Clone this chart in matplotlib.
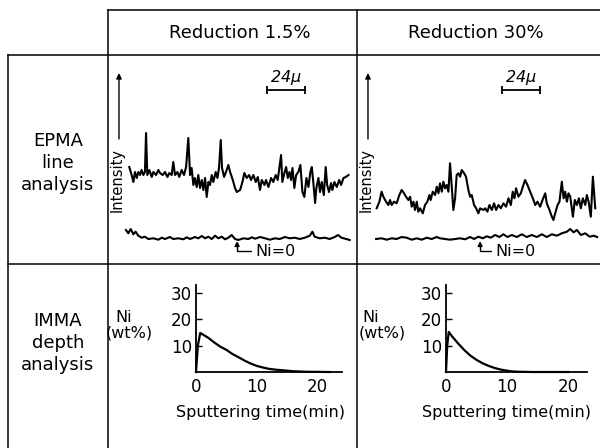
import matplotlib
matplotlib.use('Agg')
import matplotlib.pyplot as plt

plt.rcParams['font.family'] = ['DejaVu Sans']

# Column / row headers
col_titles = ['Reduction 1.5%', 'Reduction 30%']
row_titles = ['EPMA\nline\nanalysis', 'IMMA\ndepth\nanalysis']
scale_bar_um = 24

# EPMA line analysis, 1.5 % reduction: scan position (um) vs intensity (a.u.)
epma1_pos = [0.8, 2.3, 3.4, 4.4, 5.5, 6.5, 7.6, 8.6, 9.7, 10.7,
             11.4, 12.2, 13.5, 15.0, 16.0, 17.7, 19.2, 20.2, 21.9, 23.4,
             24.9, 26.1, 27.6, 28.6, 29.7, 31.2, 32.4, 33.9, 35.4, 36.7,
             38.1, 39.2, 40.2, 41.3, 42.3, 43.4, 44.4, 45.5, 46.6, 47.6,
             48.7, 49.7, 50.8, 51.8, 52.9, 53.9, 55.4, 56.5, 57.5, 58.6,
             59.4, 60.7, 61.9, 63.4, 64.5, 66.2, 67.6, 68.7,
             70.8, 72.3, 73.5, 75.0, 76.5, 77.7, 79.2, 80.7, 82.0, 83.4,
             84.5, 86.2, 87.2, 88.7, 90.4, 91.8, 93.3, 94.6, 95.6, 96.7,
             97.5, 98.8, 99.9, 100.9, 102.0, 103.0, 103.9, 105.1, 106.2, 107.6,
             108.9, 110.2, 111.4, 112.7, 114.0, 115.2, 116.1, 117.1, 118.2, 119.0,
             120.3, 121.3, 122.4, 123.7, 124.9, 125.8, 127.0, 128.3, 129.1, 130.4,
             131.9, 133.4, 134.6, 136.1, 137.6, 139.3]
epma1_int = [83, 75, 68, 78, 72, 78, 75, 80, 75, 78,
             117, 75, 80, 73, 78, 75, 80, 77, 75, 78,
             73, 77, 75, 88, 75, 78, 73, 80, 75, 83,
             112, 75, 82, 65, 72, 63, 75, 62, 70, 60,
             72, 53, 68, 65, 75, 68, 78, 72, 82, 110,
             82, 73, 78, 85, 78, 70, 62, 58,
             60, 68, 77, 72, 75, 70, 75, 68, 73, 60,
             70, 65, 70, 63, 72, 68, 75, 70, 82, 95,
             68, 77, 83, 72, 78, 70, 82, 62, 75, 78,
             85, 58, 53, 72, 63, 78, 83, 67, 47, 62,
             72, 58, 68, 55, 83, 65, 58, 67, 60, 68,
             63, 70, 65, 72, 73, 75]
# Ni = 0 base line trace
base1_pos = [-1.3, 0.2, 1.7, 3.4, 4.8, 6.5, 8.6, 10.7, 12.8, 16.0,
             19.2, 21.3, 23.4, 26.5, 28.6, 31.8, 35.0, 37.1, 39.2, 42.3,
             44.4, 46.6, 48.7, 50.8, 52.9, 55.0, 57.1, 59.2, 61.3, 63.4,
             65.5, 67.6, 69.7, 72.9, 76.1, 78.2, 80.3, 83.4, 86.6, 89.6,
             92.8, 95.9, 99.1, 102.2, 105.4, 108.5, 111.7, 114.8, 116.5, 117.9,
             121.1, 124.3, 127.4, 130.6, 132.7, 134.8, 137.9, 140.0]
base1_int = [20, 16.7, 21, 15.7, 18.3, 14.3, 12.3, 13.3, 11, 11.7,
             10.3, 12.3, 11, 13, 11, 11.7, 10.7, 12.7, 11, 13,
             11.7, 14, 11.7, 13.3, 11, 14.3, 11.7, 13.3, 10.7, 12.3,
             15, 11, 10, 11.7, 11, 12.7, 11.3, 13, 11.7, 10.3,
             11.7, 11, 13, 11.7, 12.3, 11, 12.3, 14.3, 18.3, 13.3,
             11.7, 12.3, 11, 13, 15, 12.3, 11, 10]

# EPMA line analysis, 30 % reduction
epma2_pos = [-0.2, 1.5, 2.9, 4.0, 5.7, 7.2, 8.2, 9.3, 10.7, 12.4,
             14.1, 15.6, 17.1, 18.3, 19.8, 20.9, 21.9, 23.0, 24.0, 25.1,
             26.1, 27.2, 28.9, 30.3, 31.8, 33.1, 33.9, 35.2, 36.7, 37.7,
             38.8, 39.8, 40.9, 41.9, 43.0, 44.0, 45.1, 46.1, 47.2, 48.2,
             49.3, 50.3, 51.4, 52.5, 53.5, 55.0, 56.2, 57.7, 58.8, 59.8,
             61.3, 62.6, 64.0, 65.1, 67.2,
             68.3, 69.7, 71.0, 72.5, 73.9, 75.2, 76.7, 78.2, 79.8, 81.5,
             83.0, 84.5, 85.7, 86.8, 87.8, 89.3, 90.8, 92.1, 93.5, 95.0,
             96.7, 98.4, 99.9, 101.3, 103.0, 104.5, 106.2, 107.2, 108.9, 110.4,
             111.4, 112.5, 114.0, 115.2, 116.7, 117.8, 118.8, 119.9, 120.9, 122.0,
             123.7, 124.9, 126.2, 127.5, 128.7, 130.0, 131.5, 132.5, 133.6, 135.0,
             136.3, 137.8]
epma2_int = [41.7, 48.3, 58.3, 53.3, 48.3, 45, 50, 45, 48.3, 46.7,
             55, 60, 56.7, 53.3, 50, 53.3, 43.3, 48.3, 40, 48.3,
             38.3, 41.7, 36.7, 45, 48.3, 55, 50, 58.3, 55, 63.3,
             56.7, 66.7, 58.3, 68.3, 61.7, 65, 58.3, 86.7, 63.3, 40,
             51.7, 75, 76.7, 73.3, 80, 76.7, 73.3, 60, 53.3, 55,
             45, 41.7, 36.7, 41.7, 40,
             41.7, 38.3, 45, 40, 46.7, 40, 45, 41.7, 46.7, 43.3,
             51.7, 45, 58.3, 51.7, 61.7, 53.3, 56.7, 63.3, 70, 65,
             58.3, 51.7, 45, 48.3, 43.3, 50, 56.7, 46.7, 40, 33.3,
             30, 36.7, 45, 48.3, 68.3, 51.7, 58.3, 48.3, 56.7, 53.3,
             33.3, 50, 45, 51.7, 41.7, 51.7, 45, 55, 48.3, 33.3,
             73.3, 41.7]
base2_pos = [-0.6, 2.9, 6.1, 9.3, 12.4, 15.6, 18.7, 21.9, 25.1, 28.2,
             31.4, 34.5, 37.7, 39.8, 43.0, 46.1, 49.3, 52.5, 55.6, 58.8,
             61.3, 64.0, 66.8, 69.3, 71.8, 74.6, 77.3, 79.8, 82.4, 85.1,
             88.3, 91.4, 94.6, 97.7, 100.9, 104.1, 107.2, 110.4, 113.6, 116.7,
             119.9, 122.0, 124.1, 126.2, 128.7, 131.5, 134.3, 136.8, 139.0]
base2_int = [11, 11.7, 10.3, 11.7, 11, 13, 12.3, 10.3, 11.7, 10.3,
             12.3, 11, 13, 11.7, 11, 10.3, 11, 11.7, 10.7, 13,
             11, 13.3, 11.7, 13.7, 12.3, 15, 13, 15.7, 13, 15,
             13, 15.7, 13, 15, 13, 15.7, 13, 15.7, 14.3, 16.7,
             18.3, 21, 17.7, 20, 15, 16.7, 13.3, 14.3, 13]

# IMMA depth profiles: sputtering time (min) vs Ni (wt%)
imma1_t = [0, 0.3, 0.7, 2, 3, 4, 5, 6, 7, 8, 9, 10, 11, 12, 13, 14, 16, 18, 20, 22]
imma1_ni = [0, 10, 14.8, 13, 11.2, 9.6, 8.4, 6.8, 5.6, 4.3, 3.2, 2.3, 1.7, 1.2,
            0.9, 0.7, 0.3, 0.1, 0.05, 0]
imma2_t = [0, 0.2, 0.45, 1, 2, 3, 4, 5, 6, 7, 8, 9, 10, 11, 12, 14, 16, 18, 20]
imma2_ni = [0, 10, 15.2, 13.5, 10.8, 8.3, 6.2, 4.6, 3.3, 2.3, 1.5, 0.9, 0.5,
            0.2, 0.1, 0, 0, 0, 0]

W, H = 600, 448


def px_rect(x0, y0, x1, y1):
    # pixel box (top-left origin) -> figure fraction rect
    return [x0 / W, 1 - y1 / H, (x1 - x0) / W, (y1 - y0) / H]


def draw_epma(ax, pos, inten, bpos, bint, xlim, bar_x, ni_x, ni_text_x):
    ax.set_xlim(xlim)
    ax.set_ylim(-12, 192)
    ax.axis('off')
    ax.patch.set_alpha(0)
    ax.plot(pos, inten, color='black', lw=1.5, clip_on=False)
    ax.plot(bpos, bint, color='black', lw=1.5, clip_on=False)
    # intensity arrow
    ax.annotate('', xy=(-5.7, 177), xytext=(-5.7, 111),
                arrowprops=dict(arrowstyle='-|>', color='black', lw=1.0,
                                mutation_scale=8, shrinkA=0, shrinkB=0),
                annotation_clip=False)
    ax.text(-7.0, 70, 'Intensity', rotation=90, ha='center', va='center',
            fontsize=10.5)
    # scale bar
    ax.plot([bar_x, bar_x + scale_bar_um], [160, 160], color='black', lw=1.3,
            marker='|', ms=6, mew=1.3)
    ax.text(bar_x + scale_bar_um / 2, 163, '24$\\mu$', ha='center', va='bottom',
            fontsize=11.5, style='italic')
    # Ni = 0 label
    ax.annotate('Ni=0', xy=(ni_x, 9), xytext=(ni_text_x, -1), ha='left',
                va='center', fontsize=11.5,
                arrowprops=dict(arrowstyle='-|>', color='black', lw=1.0,
                                mutation_scale=7, shrinkA=1, shrinkB=0,
                                connectionstyle='angle,angleA=0,angleB=90,rad=0'),
                annotation_clip=False)


def draw_imma(ax, t, ni, xmax):
    ax.patch.set_alpha(0)
    ax.plot(t, ni, color='black', lw=1.6, clip_on=False)
    ax.set_xlim(0, xmax)
    ax.set_ylim(0, 33)
    for s in ['top', 'right']:
        ax.spines[s].set_visible(False)
    for s in ['left', 'bottom']:
        ax.spines[s].set_linewidth(1.3)
    ax.set_xticks([0, 10, 20])
    ax.set_yticks([10, 20, 30])
    ax.tick_params(axis='both', direction='in', length=4, width=1.0,
                   labelsize=12, pad=3)
    ax.tick_params(axis='x', length=0, pad=4)


fig = plt.figure(figsize=(6, 4.48), dpi=100)

# table frame and headers drawn in pixel coordinates
bg = fig.add_axes([0, 0, 1, 1])
bg.set_xlim(0, W)
bg.set_ylim(H, 0)
bg.axis('off')
lw = 1.1
bg.plot([108, 600], [10, 10], color='black', lw=lw)
bg.plot([8, 600], [55, 55], color='black', lw=lw)
bg.plot([8, 600], [264, 264], color='black', lw=lw)
bg.plot([8, 8], [55, 448], color='black', lw=lw)
bg.plot([108, 108], [10, 448], color='black', lw=lw)
bg.plot([357, 357], [10, 448], color='black', lw=lw)

bg.text(240, 33, col_titles[0], ha='center', va='center', fontsize=13)
bg.text(476, 33, col_titles[1], ha='center', va='center', fontsize=13)
bg.text(58, 163, row_titles[0], ha='center', va='center', fontsize=13,
        linespacing=1.25)
bg.text(58, 343, row_titles[1], ha='center', va='center', fontsize=13,
        linespacing=1.25)

# Ni (wt%) labels and x labels
for x_ni, x_wt, x_lab in [(115, 106, 261), (362, 359, 507)]:
    bg.text(x_ni, 317, 'Ni', ha='left', va='center', fontsize=11.5)
    bg.text(x_wt, 333, '(wt%)', ha='left', va='center', fontsize=11.5)
    bg.text(x_lab, 412, 'Sputtering time(min)', ha='center', va='center',
            fontsize=11.5)

# EPMA panels
ax1 = fig.add_axes(px_rect(110, 58, 355, 262))
draw_epma(ax1, epma1_pos, epma1_int, base1_pos, base1_int,
          (-11.37, 143.4), 87.8, 68.9, 80.5)
ax2 = fig.add_axes(px_rect(359, 58, 600, 262))
draw_epma(ax2, epma2_pos, epma2_int, base2_pos, base2_int,
          (-11.37, 140.8), 79.0, 65.1, 74.5)

# IMMA panels
ax3 = fig.add_axes(px_rect(196, 285, 342, 372))
draw_imma(ax3, imma1_t, imma1_ni, 24)
ax4 = fig.add_axes(px_rect(446, 285, 587, 372))
draw_imma(ax4, imma2_t, imma2_ni, 23.1)

fig.savefig('out.png', dpi=100)
